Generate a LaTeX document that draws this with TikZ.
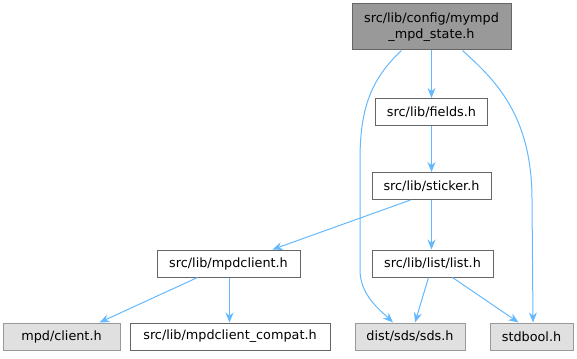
\documentclass[tikz,border=0pt]{standalone}
\usepackage{fontspec}
\setmainfont{DejaVu Sans}
\usetikzlibrary{arrows.meta}
\definecolor{RootFill}{HTML}{999999}
\definecolor{RootLine}{HTML}{666666}
\definecolor{SysFill}{HTML}{E0E0E0}
\definecolor{SysLine}{HTML}{999999}
\definecolor{FileLine}{HTML}{666666}
\definecolor{DepBlue}{HTML}{63B8FF}
\tikzset{
  header/.style={draw=FileLine, fill=white, line width=1pt, minimum height=27pt,
    inner xsep=4pt, font=\fontsize{12.8}{15.5}\selectfont, align=center},
  rootheader/.style={header, draw=RootLine, fill=RootFill, minimum height=46pt},
  sysheader/.style={header, draw=SysLine, fill=SysFill},
  dep/.style={draw=DepBlue, line width=1pt, -{Stealth[length=10pt,width=8pt]}}
}

\begin{document}
\begin{tikzpicture}[x=1pt, y=1pt]

% page frame
\useasboundingbox (0,0) rectangle (577,-358);

% header files
\node[rootheader, minimum width=159pt] (state)    at (431.5,-27) {src/lib/config/mympd\\\_mpd\_state.h};
\node[header, minimum width=112pt]     (fields)   at (431.5,-112) {src/lib/fields.h};
\node[header, minimum width=119pt]     (sticker)  at (431.5,-186) {src/lib/sticker.h};
\node[header, minimum width=143pt]     (mpdcl)    at (228.5,-263.5) {src/lib/mpdclient.h};
\node[header, minimum width=121pt]     (list)     at (432.5,-263.5) {src/lib/list/list.h};
\node[sysheader, minimum width=117pt]  (client)   at (61.5,-336.5) {mpd/client.h};
\node[header, minimum width=200pt]     (compat)   at (230,-336.5) {src/lib/mpdclient\_compat.h};
\node[sysheader, minimum width=110pt]  (sds)      at (410,-336.5) {dist/sds/sds.h};
\node[sysheader, minimum width=83pt]   (stdbool)  at (531.5,-336.5) {stdbool.h};

% includes
\draw[dep] (state.south) -- (fields.north);
\draw[dep] ([xshift=-30pt]state.south) .. controls (370,-80) and (360,-110) .. (360,-160)
  -- (360,-270) .. controls (360,-295) and (380,-310) .. ([xshift=-17pt]sds.north);
\draw[dep] ([xshift=31pt]state.south) .. controls (495,-80) and (532,-115) .. (532,-200)
  -- ([xshift=1.5pt]stdbool.north);
\draw[dep] (fields.south) -- (sticker.north);
\draw[dep] ([xshift=-21pt]sticker.south) -- ([xshift=44pt]mpdcl.north);
\draw[dep] (sticker.south) -- ([xshift=-1pt]list.north);
\draw[dep] ([xshift=-31pt]mpdcl.south) -- ([xshift=38pt]client.north);
\draw[dep] ([xshift=1pt]mpdcl.south) -- ([xshift=-0.5pt]compat.north);
\draw[dep] ([xshift=-4pt]list.south) -- ([xshift=5pt]sds.north);
\draw[dep] ([xshift=20pt]list.south) -- ([xshift=-13pt]stdbool.north);

\end{tikzpicture}
\end{document}
